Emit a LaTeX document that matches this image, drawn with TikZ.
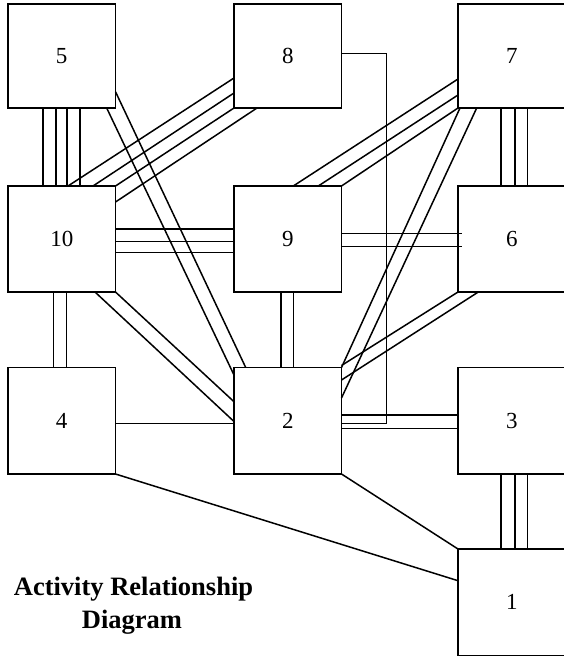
\documentclass[tikz,border=0pt]{standalone}
\usepackage{fontspec}
\newfontfamily\labfont{Liberation Serif}
\tikzset{
  box/.style={draw, line width=1.8pt, minimum width=107.5pt, minimum height=106.5pt,
    inner sep=0pt, outer sep=0pt, font=\labfont\fontsize{23}{28}\selectfont},
  toprow/.style={minimum height=104pt},
  rel/.style={line width=1.5pt},
  titletext/.style={inner sep=0pt, font=\labfont\bfseries\fontsize{26.5}{33}\selectfont},
}
\begin{document}
\begin{tikzpicture}[x=1pt,y=-1pt]
\fill[white] (0,0) rectangle (563,662);
\useasboundingbox (0,0) rectangle (563,662);
% boxes
\node[box,toprow] (b5) at (61.75,56) {5};
\node[box,toprow] (b8) at (287.75,56) {8};
\node[box,toprow] (b7) at (511.75,56) {7};
\node[box,minimum height=106pt] (b10) at (61.75,239) {10};
\node[box,minimum height=106pt] (b9) at (287.75,239) {9};
\node[box,minimum height=106pt] (b6) at (511.75,239) {6};
\node[box] (b4) at (61.75,420.75) {4};
\node[box] (b2) at (287.75,420.75) {2};
\node[box] (b3) at (511.75,420.75) {3};
\node[box] (b1) at (511.75,602.25) {1};
% 5-10
\foreach \d in {35,48,59,72}
  \draw[rel] ([shift={(\d,0)}]b5.south west) -- ([shift={(\d,0)}]b10.north west);
% 8-10
\draw[rel] ([shift={(0,74)}]b8.north west) -- ([shift={(60,0)}]b10.north west);
\draw[rel] ([shift={(0,89)}]b8.north west) -- ([shift={(85,0)}]b10.north west);
\draw[rel] (b8.south west) -- (b10.north east);
\draw[rel] ([shift={(23,0)}]b8.south west) -- ([shift={(0,16)}]b10.north east);
% 5-2
\draw[rel] ([shift={(0,-16.3)}]b5.south east) -- ([shift={(11.7,0)}]b2.north west);
\draw[rel] ([shift={(-8.8,0)}]b5.south east) -- ([shift={(0,7.5)}]b2.north west);
% 10-9
\foreach \d in {43,55.7,66.3}
  \draw[rel] ([shift={(0,\d)}]b10.north east) -- ([shift={(0,\d)}]b9.north west);
% 10-2
\draw[rel] ([shift={(-20.5,0)}]b10.south east) -- ([shift={(0,54)}]b2.north west);
\draw[rel] (b10.south east) -- ([shift={(0,34.2)}]b2.north west);
% 10-4
\foreach \d in {45.3,58.7}
  \draw[rel] ([shift={(\d,0)}]b10.south west) -- ([shift={(\d,0)}]b4.north west);
% 9-2
\foreach \d in {47,59.3}
  \draw[rel] ([shift={(\d,0)}]b9.south west) -- ([shift={(\d,0)}]b2.north west);
% 9-6
\foreach \d in {47.3,60.7}
  \draw[rel] ([shift={(0,\d)}]b9.north east) -- ([shift={(3.5,\d)}]b6.north west);
% 8-2 elbow
\draw[rel] ([shift={(0,49.3)}]b8.north east) -| ([shift={(45.2,55.8)}]b2.north east) -- ([shift={(0,55.8)}]b2.north east);
% 7-9
\draw[rel] ([shift={(0,75)}]b7.north west) -- ([shift={(59.3,0)}]b9.north west);
\draw[rel] ([shift={(0,91)}]b7.north west) -- ([shift={(84.3,0)}]b9.north west);
\draw[rel] (b7.south west) -- (b9.north east);
% 7-2
\draw[rel] ([shift={(2,0)}]b7.south west) -- (b2.north east);
\draw[rel] ([shift={(18.7,0)}]b7.south west) -- ([shift={(0,30.5)}]b2.north east);
% 7-6
\foreach \d in {43,57,69.7}
  \draw[rel] ([shift={(\d,0)}]b7.south west) -- ([shift={(\d,0)}]b6.north west);
% 6-2
\draw[rel] (b6.south west) -- ([shift={(0,-2)}]b2.north east);
\draw[rel] ([shift={(20.3,0)}]b6.south west) -- ([shift={(0,12.5)}]b2.north east);
% 2-3
\foreach \d in {47.5,60.8}
  \draw[rel] ([shift={(0,\d)}]b2.north east) -- ([shift={(0,\d)}]b3.north west);
% 4-2
\draw[rel] ([shift={(0,55.8)}]b4.north east) -- ([shift={(0,55.8)}]b2.north west);
% 4-1
\draw[rel] (b4.south east) -- ([shift={(0,31.7)}]b1.north west);
% 2-1
\draw[rel] (b2.south east) -- (b1.north west);
% 3-1
\foreach \d in {43,57,69.7}
  \draw[rel] ([shift={(\d,0)}]b3.south west) -- ([shift={(\d,0)}]b1.north west);
% title
\node[titletext, anchor=base] (t1) at (133.5,595) {Activity Relationship};
\node[titletext, anchor=base] (t2) at (132,628) {Diagram};
\end{tikzpicture}
\end{document}
